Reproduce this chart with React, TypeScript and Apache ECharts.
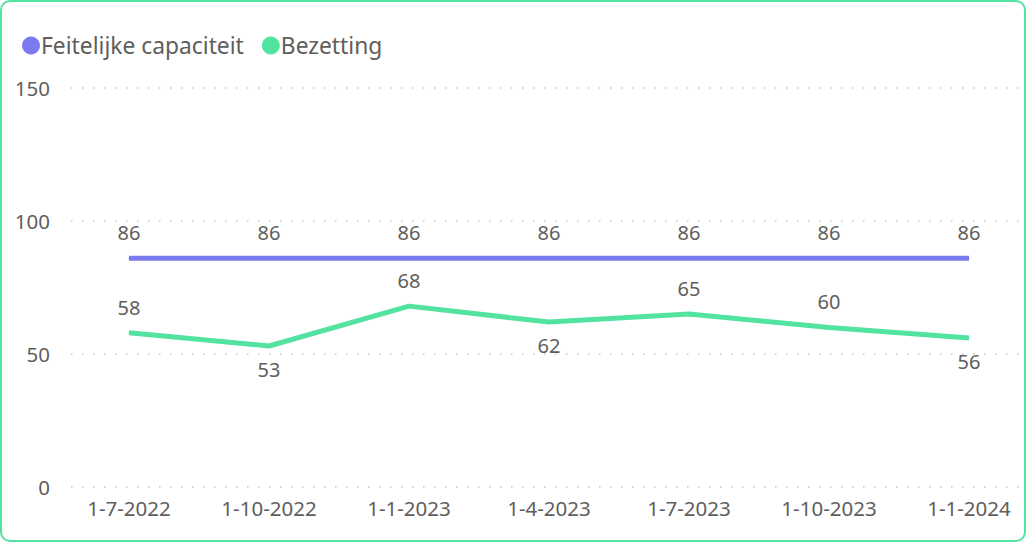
import React, { useEffect, useRef } from "react";
import * as echarts from "echarts";

const categories = ["1-7-2022", "1-10-2022", "1-1-2023", "1-4-2023", "1-7-2023", "1-10-2023", "1-1-2024"];
const capaciteit = [86, 86, 86, 86, 86, 86, 86];
const bezetting = [58, 53, 68, 62, 65, 60, 56];
const bezettingLabelPos = ["top", "bottom", "top", "bottom", "top", "top", "bottom"];
const yTicks = { min: 0, max: 150, interval: 50 };

const PURPLE = "#7b7bef";
const GREEN = "#52e3a1";
const TEXT = "#605e5c";
const FONT = "Noto Sans";

export default function App() {
  const ref = useRef<HTMLDivElement>(null);
  useEffect(() => {
    if (!ref.current) return;
    const chart = echarts.init(ref.current, null, { renderer: "svg" });
    const labelBase = { show: true, color: TEXT, fontFamily: FONT, fontSize: 20 };
    chart.setOption({
      animation: false,
      textStyle: { fontFamily: FONT },
      legend: {
        left: 17,
        top: 29,
        itemWidth: 18,
        itemHeight: 18,
        itemGap: 18,
        icon: "circle",
        textStyle: { color: TEXT, fontSize: 22.8, fontFamily: FONT, padding: [0, 0, 0, -4] },
        data: ["Feitelijke capaciteit", "Bezetting"],
      },
      grid: [
        { left: 71, right: 0, top: 88, bottom: 55 },
        { left: 59, width: 980, top: 88, bottom: 55 },
      ],
      xAxis: [
        { type: "category", gridIndex: 0, data: categories, show: false },
        {
          type: "category",
          gridIndex: 1,
          data: categories,
          axisLine: { show: false },
          axisTick: { show: false },
          axisLabel: { color: TEXT, fontSize: 20.5, fontFamily: FONT, margin: 10 },
        },
      ],
      yAxis: [
        {
          type: "value",
          gridIndex: 0,
          ...yTicks,
          axisLine: { show: false },
          axisTick: { show: false },
          axisLabel: { color: TEXT, fontSize: 20.5, fontFamily: FONT, margin: 21 },
          splitLine: { lineStyle: { color: "#c8c6c4", type: [1.5, 9.5], width: 1.5 } },
        },
        { type: "value", gridIndex: 1, ...yTicks, show: false, splitLine: { show: false } },
      ],
      series: [
        {
          name: "Feitelijke capaciteit",
          type: "line",
          xAxisIndex: 1,
          yAxisIndex: 1,
          data: capaciteit,
          symbol: "circle",
          symbolSize: 1,
          color: PURPLE,
          lineStyle: { color: PURPLE, width: 5 },
          label: { ...labelBase, position: "top", distance: 15 },
        },
        {
          name: "Bezetting",
          type: "line",
          xAxisIndex: 1,
          yAxisIndex: 1,
          data: bezetting.map((v, i) => ({
            value: v,
            label: { position: bezettingLabelPos[i], distance: bezettingLabelPos[i] === "bottom" ? 13 : 15 },
          })),
          symbol: "circle",
          symbolSize: 1,
          color: GREEN,
          lineStyle: { color: GREEN, width: 5 },
          label: { ...labelBase, position: "top", distance: 15 },
        },
      ],
    });
    return () => chart.dispose();
  }, []);

  return (
    <div
      style={{
        position: "fixed",
        left: 0,
        top: 0,
        width: 1026,
        height: 542,
        boxSizing: "border-box",
        border: "2px solid " + GREEN,
        borderRadius: 10,
        overflow: "hidden",
        background: "#fff",
      }}
    >
      <div ref={ref} style={{ position: "absolute", left: -2, top: -2, width: 1040, height: 542 }} />
    </div>
  );
}
